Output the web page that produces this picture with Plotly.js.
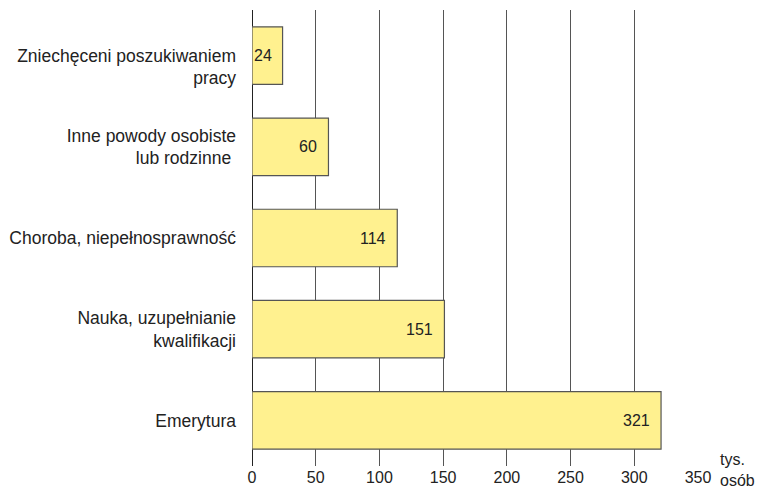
<!DOCTYPE html>
<html><head><meta charset="utf-8">
<script src="https://cdn.plot.ly/plotly-3.0.1.min.js"></script>
<style>html,body{margin:0;padding:0;background:#fff}</style>
</head><body>
<div id="chart" style="width:769px;height:488px"></div>
<script>
const categories = [
  "<br>Zniechęceni poszukiwaniem<br>pracy",
  "Inne powody osobiste<br>lub rodzinne ",
  "Choroba, niepełnosprawność",
  "Nauka, uzupełnianie<br>kwalifikacji",
  "Emerytura"
];
const values = [24, 60, 114, 151, 321];
const tickVals = [0, 50, 100, 150, 200, 250, 300, 350];

const FONT = 'Liberation Sans, Arial, sans-serif';

const trace = {
  type: 'bar',
  orientation: 'h',
  y: categories,
  x: values,
  marker: {color: '#FFF18F', line: {color: '#555', width: 1.2}},
  width: 0.63,
  hoverinfo: 'none'
};

const valueLabels = values.map((v, i) => ({
  text: String(v), x: v, y: categories[i], xref: 'x', yref: 'y',
  xanchor: 'right', yanchor: 'middle', xshift: -9, showarrow: false,
  font: {family: FONT, size: 16, color: '#222'}
}));

const layout = {
  width: 769, height: 488,
  margin: {l: 252, r: 71, t: 10, b: 22},
  paper_bgcolor: '#fff', plot_bgcolor: '#fff',
  font: {family: FONT, size: 16, color: '#222'},
  showlegend: false,
  xaxis: {
    range: [0, 350], tickvals: tickVals, ticktext: tickVals.map(String),
    showgrid: true, gridcolor: '#555', gridwidth: 1,
    zeroline: true, zerolinecolor: '#222', zerolinewidth: 1,
    showline: false, ticks: '', tickfont: {size: 16, color: '#222'}
  },
  yaxis: {
    autorange: 'reversed',
    showgrid: false, zeroline: false, showline: false, ticks: '',
    ticklabelstandoff: 15,
    tickfont: {size: 17.5, color: '#222'}
  },
  annotations: valueLabels.concat([{
    text: 'tys.<br>osób', xref: 'paper', yref: 'paper', x: 1.0, y: 0,
    xanchor: 'left', yanchor: 'top', xshift: 20, yshift: 17, align: 'left',
    showarrow: false, font: {size: 16, color: '#222'}
  }])
};

Plotly.newPlot('chart', [trace], layout, {staticPlot: true});
</script>
</body></html>
